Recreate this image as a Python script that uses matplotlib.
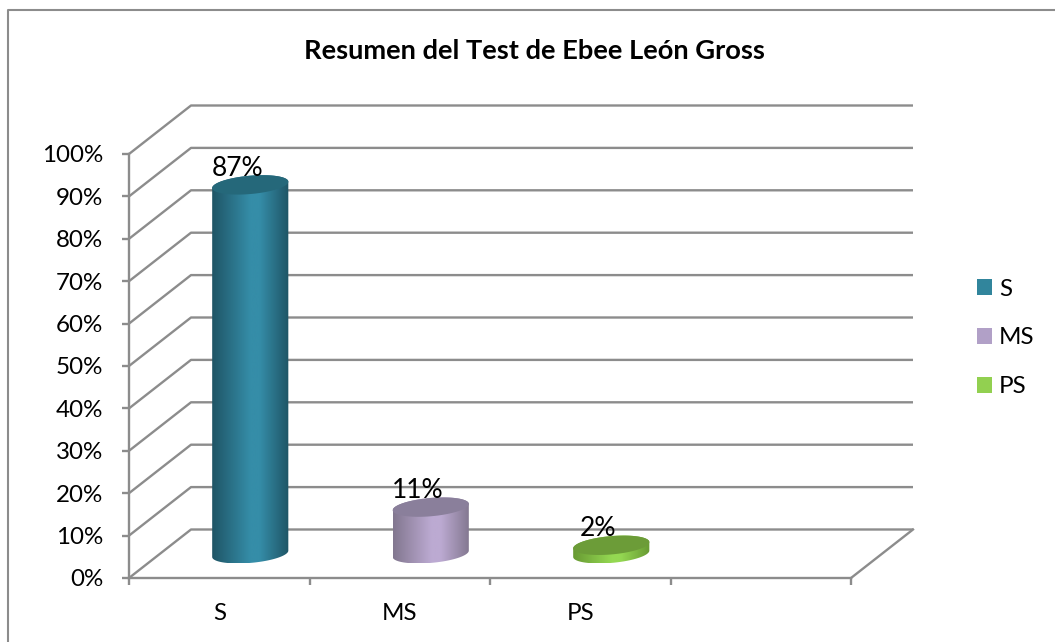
# -*- coding: utf-8 -*-
"""Resumen del Test de Ebee Leon Gross, cylinder chart with a fake 3D wall."""
import numpy as np
from matplotlib import pyplot as plt
from matplotlib.colors import LinearSegmentedColormap
from matplotlib.lines import Line2D
from matplotlib.patches import Patch, Polygon

categories = ["S", "MS", "PS"]
values = [87, 11, 2]
yTicks = [0, 10, 20, 30, 40, 50, 60, 70, 80, 90, 100]
edgeColors = ["#1f5566", "#82778f", "#689a33"]
midColors = ["#358da8", "#bcaad2", "#94d852"]
capColors = ["#25687a", "#8a7f9b", "#6c9c38"]
legendColors = ["#31859c", "#b1a0c7", "#92d050"]

plt.rcParams["font.family"] = ["Lato", "DejaVu Sans"]
gridColor = "#8c8c8c"
W, H = 1055, 642
left, right, bottom, top = 129, 851, 578, 154

fig = plt.figure(figsize=(W / 100, H / 100), dpi=100)
ax = fig.add_axes([left / W, 1 - bottom / H, (right - left) / W, (bottom - top) / H])

# depth of the fake 3D box, in data units
depthX = 62 / 180.5
depthY = 48.5 / 4.24
radiusX = 36 / 180.5
radiusDepth = 0.2

# outer chart frame, only left and top are in the picture
fig.add_artist(Line2D([8 / W, 8 / W, 1], [0, 1 - 10 / H, 1 - 10 / H], transform=fig.transFigure,
                      color=gridColor, lw=1.5))

# walls
for tick in yTicks:
    ax.plot([0, depthX, 4 + depthX], [tick, tick + depthY, tick + depthY],
            color=gridColor, lw=1.7, clip_on=False, zorder=1, solid_capstyle="butt")
ax.plot([4, 4 + depthX], [0, depthY], color=gridColor, lw=1.7, clip_on=False, zorder=1)


def ellipse(center, level):
    t = np.linspace(0, 2 * np.pi, 180, endpoint=False)
    depth = 0.5 + radiusDepth * np.sin(t)
    return center + radiusX * np.cos(t) + depthX * depth, level + depthY * depth


for i, value in enumerate(values):
    center = i + 0.5
    xBottom, yBottom = ellipse(center, 0)
    xTop, yTop = ellipse(center, value)
    # silhouette: back arc of the top ellipse + front arc of the base
    iMax, iMin = np.argmax(xTop), np.argmin(xTop)
    arcTop = np.roll(np.arange(180), -iMax)[:(iMin - iMax) % 180 + 1]
    arcBottom = np.roll(np.arange(180), -iMin)[:(iMax - iMin) % 180 + 1]
    body = np.vstack([np.column_stack([xTop[arcTop], yTop[arcTop]]),
                      np.column_stack([xBottom[arcBottom], yBottom[arcBottom]])])
    cmap = LinearSegmentedColormap.from_list(
        "cyl", [(0, edgeColors[i]), (0.5, midColors[i]), (0.62, midColors[i]), (1, edgeColors[i])])
    patch = Polygon(body, closed=True, transform=ax.transData, facecolor="none", edgecolor="none",
                    clip_on=False)
    ax.add_patch(patch)
    image = ax.imshow(np.linspace(0, 1, 200)[None, :],
                      extent=[xTop.min(), xTop.max(), yBottom.min(), yTop.max()],
                      aspect="auto", cmap=cmap, zorder=3, origin="lower")
    image.set_clip_path(patch)
    ax.fill(xTop, yTop, color=capColors[i], zorder=4, clip_on=False, lw=0)
    ax.annotate(f"{value}%", (center, value), xytext=(18, 41), textcoords="offset pixels",
                ha="center", va="center", fontsize=19, color="black", zorder=5)

ax.set_xlim(0, 4)
ax.set_ylim(0, 100)

for side in ["top", "right"]:
    ax.spines[side].set_visible(False)
for side in ["left", "bottom"]:
    ax.spines[side].set_color(gridColor)
    ax.spines[side].set_linewidth(1.7)
ax.patch.set_alpha(0)

ax.set_yticks(yTicks)
ax.set_yticklabels([f"{tick}%" for tick in yTicks], fontsize=17.4, color="black")
ax.set_xticks(range(5))
ax.set_xticklabels([])
ax.set_xticks([i + 0.5 for i in range(3)], labels=categories, minor=True, fontsize=17.4)
ax.tick_params(axis="both", which="major", length=5, width=1.7, color=gridColor, direction="out")
ax.tick_params(axis="y", pad=13.5)
ax.tick_params(axis="x", which="minor", length=0, pad=18)

fig.text(534 / W, 1 - 51 / H, "Resumen del Test de Ebee León Gross", fontsize=19.6,
         fontweight="bold", ha="center", va="center")

handles = [Patch(facecolor=c, edgecolor="none") for c in legendColors]
fig.legend(handles, categories, loc="center left", bbox_to_anchor=(977 / W, 1 - 338 / H),
           frameon=False, fontsize=17.4, handlelength=0.62, handleheight=0.62,
           handletextpad=0.3, labelspacing=1.15, borderpad=0, borderaxespad=0)

fig.savefig("out.png", dpi=100)
